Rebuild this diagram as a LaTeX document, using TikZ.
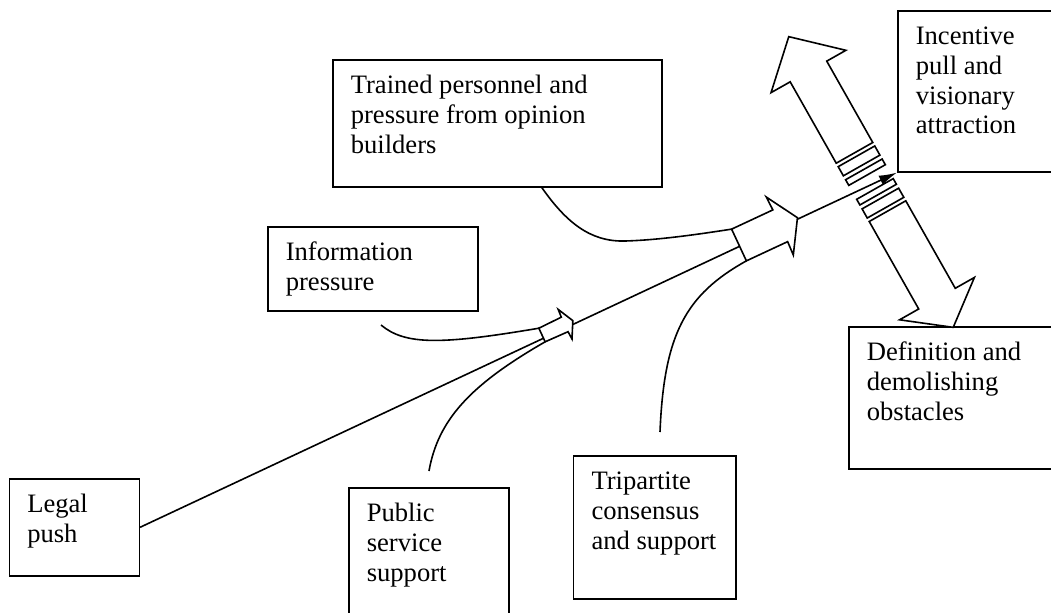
\documentclass[tikz,border=0pt]{standalone}
\usepackage{fontspec}
\setmainfont{Liberation Serif}
\usepackage{tikz}
\usetikzlibrary{arrows.meta,calc}
\tikzstyle{textbox}=[draw, line width=0.8pt, anchor=north west, inner xsep=9pt, inner ysep=6.64pt, font=\fontsize{13.3}{14.8}\selectfont]
\tikzstyle{blockarrow}=[draw, fill=white, line width=0.8pt, line join=miter]
\tikzstyle{link}=[line width=0.8pt]

\begin{document}
\begin{tikzpicture}[x=0.5pt, y=-0.5pt]
                    \useasboundingbox (0,0) rectangle (1051,612);
                    \clip (0,0) rectangle (1051,612);
                    \fill[white] (0,0) rectangle (1051,612);
                    % boxes
                    \node[textbox] (legal)      at (8.5,478)  {\parbox[t][35.2pt][t]{47pt}{\strut Legal\\push}};
                    \node[textbox] (public)     at (348,487)  {\parbox[t][55.7pt][t]{62pt}{\strut Public\\service\\support}};
                    \node[textbox] (tripartite) at (572.7,455) {\parbox[t][58.2pt][t]{63.2pt}{\strut Tripartite\\consensus\\and support}};
                    \node[textbox] (definition) at (848,326)  {\parbox[t][57.7pt][t]{88pt}{\strut Definition and\\demolishing\\obstacles}};
                    \node[textbox] (incentive)  at (897,10)   {\parbox[t][67.2pt][t]{63.5pt}{\strut Incentive\\pull and\\visionary\\attraction}};
                    \node[textbox] (trained)    at (332,59)   {\parbox[t][50.2pt][t]{146.5pt}{\strut Trained personnel and\\pressure from opinion\\builders}};
                    \node[textbox] (info)       at (267,226)  {\parbox[t][28.7pt][t]{87pt}{\strut Information\\pressure}};
                    % pull and obstacles
                    \begin{scope}[shift={(871,182)}, rotate=119.5]
                        \draw[blockarrow] (33.5,-21) -- (127,-21) -- (127,-43) -- (167,0) -- (127,43) -- (127,21) -- (33.5,21) -- cycle;
                        \draw[blockarrow] (19,-21) rectangle (29.5,21);
                        \draw[blockarrow] (8,-21) rectangle (14.5,21);
                        \draw[blockarrow] (-8,-21) rectangle (-14.5,21);
                        \draw[blockarrow] (-19,-21) rectangle (-29.5,21);
                        \draw[blockarrow] (-33.5,-21) -- (-134,-21) -- (-134,-43) -- (-167,0) -- (-134,43) -- (-134,21) -- (-33.5,21) -- cycle;
                    \end{scope}
                    % push line
                    \draw[link, -{Latex[length=9pt,width=5pt]}] (legal.east) -- (incentive.south west);
                    \begin{scope}[shift={(542,335)}, rotate=25]
                        \draw[blockarrow] (0,-7.5) coordinate (smallup) -- (25,-8) -- (25.5,-16.3) -- (34,0) -- (25.5,16.3) -- (25,8) -- (0,7.5) coordinate (smalldown) -- cycle;
                    \end{scope}
                    \begin{scope}[shift={(739,245)}, rotate=25]
                        \draw[blockarrow] (0,-17.5) coordinate (bigup) -- (45.5,-17.5) -- (45,-32) -- (64.5,0) -- (45,32) -- (45.5,17.5) -- (0,17.5) coordinate (bigdown) -- cycle;
                    \end{scope}
                    % feeders
                    \coordinate (infoend)   at (381,325);
                    \coordinate (publicend) at (429,471);
                    \coordinate (triend)    at (660,432);
                    \draw[link] (infoend) .. controls (405,345) and (440,345) .. (smallup);
                    \draw[link] (publicend) .. controls (438,420) and (470,385) .. (smalldown);
                    \draw[link] (triend) .. controls (664,335) and (685,295) .. (bigdown);
                    \draw[link] ($(trained.south)+(44.5,0)$) .. controls (566,222) and (590,242) .. (625,241)
                                .. controls (660,240) and (700,234) .. (bigup);
                \end{tikzpicture}
\end{document}
